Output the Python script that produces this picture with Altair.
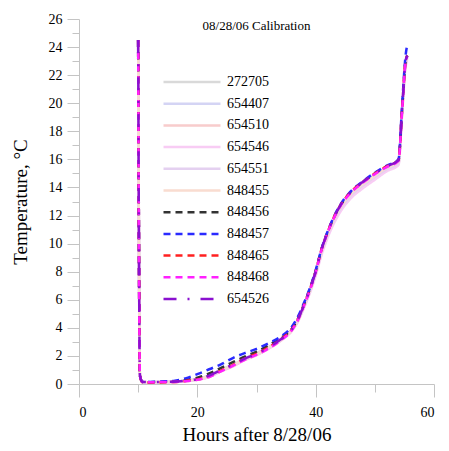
import altair as alt
import pandas as pd

hours = [10.0, 10.3, 10.7, 12, 14, 16, 18, 20, 22, 24, 26, 28, 30, 32, 34, 36, 37, 38,
         39, 40, 41, 42, 44, 46, 48, 50, 52, 54, 54.6, 55.2, 55.5]

series_names = ["272705", "654407", "654510", "654546", "654551", "848455",
                "848456", "848457", "848465", "848468", "654526"]

t_272705 = [24.5, 0.6, 0.15, 0.12, 0.14, 0.15, 0.22, 0.32, 0.55, 0.95, 1.3, 1.75, 2.1, 2.55, 3.1, 3.85, 4.5, 5.5,
            6.6, 7.9, 9.4, 10.6, 12.4, 13.5, 14.2, 14.8, 15.35, 15.8, 19.3, 22.8, 23.2]
t_654407 = [24.5, 0.6, 0.16, 0.13, 0.15, 0.17, 0.25, 0.38, 0.62, 1.02, 1.38, 1.82, 2.2, 2.62, 3.18, 3.92, 4.6, 5.6,
            6.7, 8.0, 9.5, 10.7, 12.5, 13.6, 14.3, 14.9, 15.45, 15.9, 19.4, 22.9, 23.3]
t_654510 = [24.5, 0.6, 0.12, 0.1, 0.12, 0.13, 0.2, 0.3, 0.5, 0.9, 1.25, 1.7, 2.05, 2.5, 3.05, 3.8, 4.45, 5.45,
            6.55, 7.85, 9.35, 10.55, 12.3, 13.4, 14.1, 14.7, 15.25, 15.7, 19.2, 22.7, 23.1]
t_654546 = [24.5, 0.6, 0.13, 0.11, 0.13, 0.14, 0.21, 0.31, 0.52, 0.92, 1.28, 1.72, 2.08, 2.52, 3.08, 3.82, 4.48, 5.4,
            6.45, 7.7, 9.2, 10.4, 12.15, 13.25, 13.95, 14.55, 15.15, 15.6, 19.1, 22.6, 23.0]
t_654551 = [24.5, 0.6, 0.14, 0.12, 0.14, 0.15, 0.23, 0.34, 0.57, 0.97, 1.33, 1.78, 2.12, 2.58, 3.12, 3.88, 4.55, 5.5,
            6.6, 7.85, 9.4, 10.6, 12.35, 13.45, 14.15, 14.75, 15.3, 15.75, 19.3, 22.8, 23.2]
t_848455 = [24.5, 0.6, 0.15, 0.13, 0.15, 0.16, 0.24, 0.36, 0.6, 1.0, 1.36, 1.8, 2.16, 2.6, 3.14, 3.9, 4.58, 5.55,
            6.65, 7.95, 9.45, 10.65, 12.45, 13.55, 14.25, 14.85, 15.4, 15.85, 19.35, 22.85, 23.25]
t_848456 = [24.5, 0.6, 0.15, 0.13, 0.15, 0.17, 0.28, 0.45, 0.75, 1.15, 1.55, 1.95, 2.3, 2.75, 3.25, 3.95, 4.65, 5.65,
            6.75, 8.05, 9.6, 10.8, 12.6, 13.7, 14.4, 15.0, 15.5, 15.95, 19.5, 23.0, 23.4]
t_848457 = [24.5, 0.6, 0.18, 0.15, 0.18, 0.22, 0.4, 0.7, 1.05, 1.4, 1.85, 2.2, 2.5, 2.9, 3.35, 4.1, 4.8, 5.75,
            6.8, 8.1, 9.65, 10.85, 12.65, 13.75, 14.45, 15.05, 15.55, 16.0, 19.8, 23.4, 24.2]
t_848465 = [24.5, 0.6, 0.12, 0.1, 0.12, 0.14, 0.22, 0.32, 0.55, 0.95, 1.35, 1.8, 2.15, 2.6, 3.15, 3.9, 4.6, 5.6,
            6.7, 8.0, 9.6, 10.8, 12.6, 13.7, 14.4, 15.0, 15.5, 15.95, 19.5, 23.0, 23.4]
t_848468 = [24.5, 0.6, 0.14, 0.12, 0.14, 0.15, 0.2, 0.3, 0.5, 0.9, 1.3, 1.72, 2.08, 2.52, 3.08, 3.85, 4.55, 5.55,
            6.65, 7.95, 9.55, 10.75, 12.55, 13.65, 14.35, 14.95, 15.45, 15.9, 19.4, 22.9, 23.3]
t_654526 = [24.5, 0.6, 0.15, 0.13, 0.15, 0.16, 0.24, 0.35, 0.6, 1.0, 1.38, 1.8, 2.15, 2.6, 3.15, 3.9, 4.6, 5.6,
            6.7, 8.0, 9.6, 10.8, 12.6, 13.7, 14.4, 15.0, 15.5, 15.95, 19.5, 23.0, 23.4]

temps = [t_272705, t_654407, t_654510, t_654546, t_654551, t_848455,
         t_848456, t_848457, t_848465, t_848468, t_654526]

colors = ["#d9d9d9", "#d4d4f4", "#f8cccc", "#f8ccf4", "#e4d0f0", "#f9dcd0",
          "#333333", "#2a2aff", "#ff2020", "#ff20ff", "#8a10d0"]
dashes = [[1, 0], [1, 0], [1, 0], [1, 0], [1, 0], [1, 0],
          [7, 5], [7, 5], [7, 5], [7, 5], [13, 11, 2, 11]]
widths = [2.5, 2.5, 2.5, 2.5, 2.5, 2.5, 2, 2, 2, 2, 2]

rows = []
for name, vals in zip(series_names, temps):
    for h, v in zip(hours, vals):
        rows.append({"hours": h, "temp": v, "series": name, "order": series_names.index(name)})
df = pd.DataFrame(rows)

serif = "Liberation Serif"
leg = alt.Legend(title=None, orient="none", legendX=102, legendY=52, symbolType="M-3,0H3",
                 symbolSize=361, labelFont=serif, labelFontSize=14, labelColor="black",
                 labelOffset=24, rowPadding=3.7, padding=0, symbolStrokeWidth=2)

chart = alt.Chart(df).mark_line(interpolate="monotone").encode(
    x=alt.X("hours:Q", scale=alt.Scale(domain=[0, 60], nice=False),
            axis=alt.Axis(title="Hours after 8/28/06", values=[0, 10, 20, 30, 40, 50, 60],
                          labelExpr="datum.value % 20 === 0 ? datum.label : ''",
                          tickSize={"condition": {"test": "datum.value % 20 === 0", "value": 13}, "value": 8},
                          labelPadding=8, titlePadding=6, grid=False)),
    y=alt.Y("temp:Q", scale=alt.Scale(domain=[0, 26], nice=False),
            axis=alt.Axis(title="Temperature, °C", values=list(range(0, 27)),
                          labelExpr="datum.value % 2 === 0 ? datum.label : ''",
                          tickSize={"condition": {"test": "datum.value % 2 === 0", "value": 12}, "value": 7},
                          labelPadding=5, titlePadding=18, grid=False)),
    color=alt.Color("series:N", scale=alt.Scale(domain=series_names, range=colors), legend=leg),
    strokeDash=alt.StrokeDash("series:N", scale=alt.Scale(domain=series_names, range=dashes), legend=leg),
    strokeWidth=alt.StrokeWidth("series:N", scale=alt.Scale(domain=series_names, range=widths), legend=leg),
    order=alt.Order("order:Q"),
    detail="series:N",
).properties(
    width=355, height=365,
    title=alt.TitleParams("08/28/06 Calibration", font=serif, fontSize=13, fontWeight="normal",
                          color="black", anchor="middle", dy=25),
    autosize=alt.AutoSizeParams(type="none"),
    padding={"left": 71, "top": 11, "right": 7, "bottom": 64},
).configure_view(stroke=None).configure_axis(
    domainColor="#c4c4c4", tickColor="#c4c4c4", labelFont=serif, labelFontSize=14,
    labelColor="black", titleFont=serif, titleFontSize=19, titleFontWeight="normal",
    titleColor="black", domainWidth=1, tickWidth=1
)

chart.save("out.html", embed_options={"renderer": "svg", "actions": False})
